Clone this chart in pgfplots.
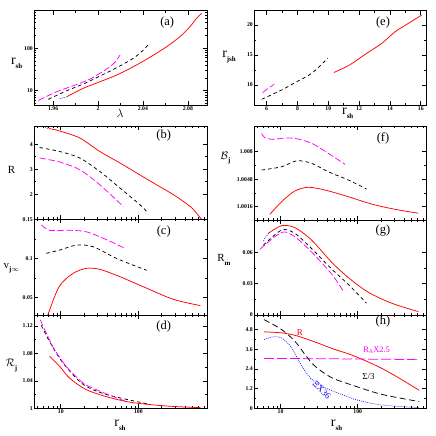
\documentclass[border=0pt]{standalone}
\usepackage{fontspec}
\setmainfont{Liberation Serif}
\usepackage{pgfplots}
\pgfplotsset{compat=1.18}
\definecolor{mymag}{RGB}{255,0,255}
\newcommand{\sub}[1]{\raisebox{-3.5bp}{\fontsize{7}{7}\selectfont\bfseries #1}}
\newcommand{\rr}{{\fontsize{14}{14}\selectfont r}}
\tikzset{lab/.style={font=\fontsize{12.5}{13}\selectfont, anchor=center}}
\pgfplotsset{
  panel/.style={scale only axis, anchor=south west, scaled ticks=false,
    axis line style={line width=0.9bp},
    every tick/.style={line width=0.6bp, black},
    major tick length=4bp, minor tick length=2bp, tick align=inside,
    ticklabel style={font=\fontsize{5.8}{6}\selectfont\bfseries, inner sep=1bp},
    /pgf/number format/assume math mode=true, clip=true,
    xlabel style={font=\fontsize{11}{11}\selectfont, anchor=center},
    ylabel style={font=\fontsize{11}{11}\selectfont, rotate=-90, anchor=center}},
  redl/.style={red, line width=0.75bp, smooth},
  blk/.style={black, line width=0.75bp, dash pattern=on 3.5bp off 3bp, smooth},
  mag/.style={mymag, line width=0.75bp, dash pattern=on 6.5bp off 2.5bp, smooth},
  blu/.style={blue, line width=0.75bp, dash pattern=on 0.75bp off 1.25bp, smooth}
}
\begin{document}
\begin{tikzpicture}
\path[use as bounding box] (0,0) rectangle (436bp,436bp);
% (a)
\begin{axis}[panel, at={(34bp,331bp)}, width=173bp, height=94.3bp,
  xmin=1.943, xmax=2.097, ymode=log, ymin=4.6, ymax=771,
  xtick={1.96,2,2.04,2.08}, xticklabels={1.96,2,2.04,2.08}, minor x tick num=1,
  ytick={10,100}, yticklabels={10,100},
  minor ytick={5,6,7,8,9,20,30,40,50,60,70,80,90,200,300,400,500,600,700},
  xlabel={$\lambda$}, xlabel style={at={(axis description cs:0.497,-0.088)}, font=\fontsize{13}{13}\selectfont},
  ylabel={\rr\sub{sh}}, ylabel style={at={(axis description cs:-0.1,0.445)}}]
\addplot[redl] coordinates {(1.9722,7.22)(1.9869,11.4)(2.0018,16.3)(2.0166,23.4)(2.0314,36.8)(2.0462,61.4)(2.0611,109)(2.0729,188)(2.0818,323)(2.0877,509)(2.0922,668)};
\addplot[blk] coordinates {(1.9558,6.27)(1.9722,10)(1.9869,14.4)(2.0018,22.2)(2.0166,34.9)(2.0314,58)(2.0403,91)(2.0462,135)};
\addplot[mag] coordinates {(1.9469,5.9)(1.9633,9.5)(1.978,13.1)(1.9929,18.9)(2.0077,32.5)(2.0151,46.8)(2.0196,69.5)};
\addplot[blu] coordinates {(1.966,6.5)(1.972,7.1)};
\node[lab] at (rel axis cs:0.77,0.88) {(a)};
\end{axis}
% (e)
\begin{axis}[panel, at={(254bp,331bp)}, width=172bp, height=94.3bp,
  xmin=5.18, xmax=16.34, ymin=6.67, ymax=22.4,
  xtick={6,8,10,12,14,16}, xticklabels={6,8,10,12,14,16}, minor x tick num=1,
  ytick={10,15,20}, yticklabels={10,15,20}, minor y tick num=1,
  xlabel={\rr\sub{sh}}, xlabel style={at={(axis description cs:0.545,-0.085)}},
  ylabel={\rr\sub{jsh}}, ylabel style={at={(axis description cs:-0.145,0.51)}}]
\addplot[redl, smooth=false] coordinates {(10.37,12.1)(11.37,13.33)(12.49,15.28)(13.47,16.95)(14.33,18.88)(15.19,20.28)(16.06,21.67)};
\addplot[blk] coordinates {(5.68,7.62)(6.97,9.17)(7.95,10.55)(8.92,11.95)(9.96,14.45)};
\addplot[mag] coordinates {(5.74,8.72)(6.10,9.45)(6.49,10.12)};
\node[lab] at (rel axis cs:0.75,0.88) {(e)};
\end{axis}
% (b)
\begin{axis}[panel, xmode=log, xmin=4.52, xmax=767, xtick={10,100},
  minor xtick={5,6,7,8,9,20,30,40,50,60,70,80,90,200,300,400,500,600,700},
  at={(34bp,216.7bp)}, width=173bp, height=93.3bp,
  ymin=1, ymax=4.73, xticklabels={}, ytick={2,3,4}, yticklabels={2,3,4}, minor y tick num=1,
  ylabel={R}, ylabel style={at={(axis description cs:-0.13,0.53)}}]
\addplot[redl] coordinates {(7.05,4.63)(9.7,4.53)(17.6,4.25)(31.9,3.71)(58,3.25)(122,2.65)(284,1.98)(467,1.51)(560,1.25)(660,0.98)};
\addplot[blk] coordinates {(5.35,3.87)(9.7,3.71)(17.6,3.45)(31.9,2.91)(58,2.25)(105,1.58)(128,1.31)};
\addplot[mag] coordinates {(5.35,3.45)(9.7,3.29)(17.6,2.98)(31.9,2.38)(64,1.51)};
\addplot[blu] coordinates {(6.3,4.66)(6.9,4.64)};
\node[lab] at (rel axis cs:0.75,0.9) {(b)};
\end{axis}
% (c)
\begin{axis}[panel, xmode=log, xmin=4.52, xmax=767, xtick={10,100},
  minor xtick={5,6,7,8,9,20,30,40,50,60,70,80,90,200,300,400,500,600,700},
  at={(34bp,121bp)}, width=173bp, height=95.7bp,
  ymin=0.028, ymax=0.15, xticklabels={}, ytick={0.05,0.1,0.15}, yticklabels={0.05,0.1,0.15}, minor y tick num=1,
  ylabel={v\sub{j$\infty$}}, ylabel style={at={(axis description cs:-0.13,0.49)}}]
\addplot[redl] coordinates {(6.7,0.026)(9.5,0.064)(14.4,0.081)(21.5,0.0875)(31.9,0.0862)(58,0.0768)(116,0.064)(282,0.048)(630,0.040)};
\addplot[blk] coordinates {(6.5,0.1066)(9.7,0.1108)(15.9,0.117)(26.2,0.115)(52.6,0.100)(128,0.085)};
\addplot[mag] coordinates {(5.6,0.143)(7.2,0.136)(13,0.136)(21.5,0.134)(39,0.124)(67,0.113)};
\node[lab] at (rel axis cs:0.75,0.87) {(c)};
\end{axis}
% (d)
\begin{axis}[panel, xmode=log, xmin=4.52, xmax=767, xtick={10,100},
  minor xtick={5,6,7,8,9,20,30,40,50,60,70,80,90,200,300,400,500,600,700},
  at={(34bp,27.7bp)}, width=173bp, height=93.3bp,
  ymin=1, ymax=1.136, xticklabels={10,100}, ytick={1,1.04,1.08,1.12}, yticklabels={1,1.04,1.08,1.12}, minor y tick num=1,
  xlabel={\rr\sub{sh}}, xlabel style={at={(axis description cs:0.497,-0.18)}},
  ylabel={$\mathcal{R}$\sub{j}}, ylabel style={at={(axis description cs:-0.13,0.46)}}]
\addplot[redl] coordinates {(7.2,1.0756)(9.7,1.061)(13,1.044)(21.5,1.027)(43,1.0155)(86,1.0082)(233,1.0033)(630,1.001)};
\addplot[blk] coordinates {(5.6,1.121)(7.2,1.097)(10.7,1.066)(19.4,1.035)(39,1.020)(128,1.0068)};
\addplot[mag] coordinates {(5.45,1.129)(7.9,1.090)(11.8,1.061)(19.4,1.037)(31.9,1.025)(67,1.0106)};
\node[lab] at (rel axis cs:0.75,0.875) {(d)};
\end{axis}
% (f)
\begin{axis}[panel, xmode=log, xmin=4.52, xmax=767, xtick={10,100},
  minor xtick={5,6,7,8,9,20,30,40,50,60,70,80,90,200,300,400,500,600,700},
  at={(254bp,216bp)}, width=172bp, height=94bp,
  ymin=1.00005, ymax=1.011, xticklabels={}, ytick={1.0016,1.0048,1.008}, yticklabels={1.0016,1.0048,1.008}, minor y tick num=1,
  ylabel={$\mathcal{B}$\sub{j}}, ylabel style={at={(axis description cs:-0.165,0.66)}}]
\addplot[redl] coordinates {(7.26,1.00071)(10.3,1.00218)(15.3,1.00343)(22.8,1.00386)(37.6,1.00354)(75.5,1.00276)(151,1.00191)(302,1.0013)(610,1.00084)};
\addplot[blk] coordinates {(5.67,1.00587)(10.3,1.00625)(16.2,1.00695)(25.3,1.00665)(41.5,1.00567)(75.5,1.00471)(130,1.00366)};
\addplot[mag] coordinates {(5.67,1.01014)(6.25,1.00963)(8.0,1.00944)(10.3,1.00956)(15.3,1.00956)(25.3,1.00898)(41.5,1.00781)(68.5,1.00653)};
\node[lab] at (rel axis cs:0.75,0.87) {(f)};
\end{axis}
% (g)
\begin{axis}[panel, xmode=log, xmin=4.52, xmax=767, xtick={10,100},
  minor xtick={5,6,7,8,9,20,30,40,50,60,70,80,90,200,300,400,500,600,700},
  at={(254bp,121bp)}, width=172bp, height=95bp,
  ymin=0, ymax=0.0907, xticklabels={}, ytick={0,0.03,0.06}, yticklabels={0,0.03,0.06}, minor y tick num=1,
  ylabel={R\sub{$\dot{\mathbf{m}}$}}, ylabel style={at={(axis description cs:-0.175,0.58)}}]
\addplot[redl] coordinates {(6.9,0.0779)(10.3,0.0853)(15.3,0.0834)(25.3,0.0714)(46,0.0503)(75.5,0.0357)(137,0.0217)(275,0.0113)(610,0.0032)};
\addplot[blk] coordinates {(5.95,0.0665)(10.3,0.0811)(15.3,0.0779)(25.3,0.0633)(46,0.0438)(75.5,0.0292)(130,0.0113)};
\addplot[mag] coordinates {(5.37,0.0626)(10.3,0.0789)(15.3,0.0746)(25.3,0.06)(46,0.039)(65,0.0227)};
\addplot[blu] coordinates {(6.0,0.071)(6.5,0.075)(7.0,0.078)};
\node[lab] at (rel axis cs:0.75,0.89) {(g)};
\end{axis}
% (h)
\begin{axis}[panel, xmode=log, xmin=4.52, xmax=767, xtick={10,100},
  minor xtick={5,6,7,8,9,20,30,40,50,60,70,80,90,200,300,400,500,600,700},
  at={(254bp,27.7bp)}, width=172bp, height=93.3bp,
  ymin=0, ymax=5.7, xticklabels={10,100}, ytick={0,1.2,2.4,3.6,4.8}, yticklabels={0,1.2,2.4,3.6,4.8}, minor y tick num=1,
  xlabel={\rr\sub{sh}}, xlabel style={at={(axis description cs:0.48,-0.18)}}]
\addplot[redl] coordinates {(6.12,4.67)(10.3,4.61)(15.3,4.46)(22.8,4.20)(34,3.90)(50.6,3.59)(75.5,3.33)(124,2.92)(205,2.44)(337,1.87)(625,1.10)};
\addplot[mag, dash pattern=on 10bp off 3bp] coordinates {(6.12,3.05)(30,3.03)(100,3.01)(300,2.99)(625,2.97)};
\addplot[blk, dash pattern=on 6bp off 3.5bp] coordinates {(6.1,5.42)(10.3,4.81)(15.3,4.10)(20.7,3.29)(27.8,2.58)(46,1.87)(92,1.36)(205,0.85)(625,0.41)};
\addplot[blu] coordinates {(6.1,4.2)(8.0,4.37)(10.3,4.3)(13.9,3.70)(18.8,2.58)(25.3,1.77)(37.6,1.26)(62,0.85)(101,0.49)(205,0.2)(625,0.04)};
\node[lab] at (rel axis cs:0.75,0.93) {(h)};
\node[red, font=\fontsize{9}{9}\selectfont] at (rel axis cs:0.267,0.815) {R};
\node[mymag, font=\fontsize{8.5}{9}\selectfont] at (rel axis cs:0.713,0.625) {R\raisebox{-1.5bp}{\fontsize{6}{6}\selectfont A}X2.5};
\node[black, font=\fontsize{9}{9}\selectfont] at (rel axis cs:0.665,0.339) {Σ/3};
\node[blue, font=\fontsize{9}{9}\selectfont, rotate=-45] at (rel axis cs:0.394,0.196) {ΞX36};
\end{axis}
\end{tikzpicture}
\end{document}
